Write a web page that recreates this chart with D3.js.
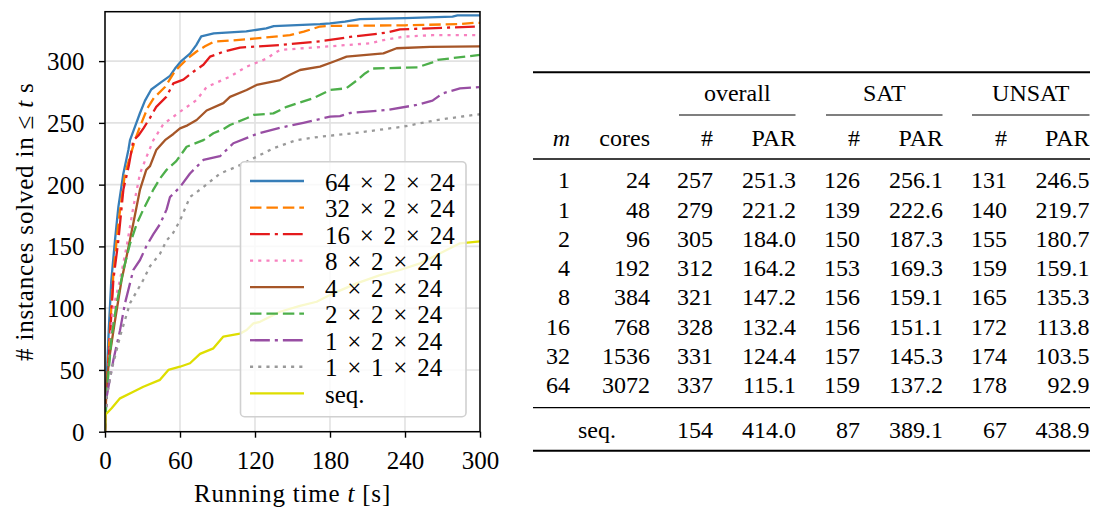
<!DOCTYPE html>
<html>
<head>
<meta charset="utf-8">
<script src="https://cdn.jsdelivr.net/npm/d3@7"></script>
<style>
  html, body { margin: 0; padding: 0; background: #fff; }
  svg { display: block; }
</style>
</head>
<body>
<svg id="fig" width="1096" height="510"></svg>
<script>
// ---------------- data ----------------
const xTicks = [0, 60, 120, 180, 240, 300];
const yTicks = [0, 50, 100, 150, 200, 250, 300];

const seriesNames = ["64 × 2 × 24", "32 × 2 × 24", "16 × 2 × 24", "8 × 2 × 24",
                     "4 × 2 × 24", "2 × 2 × 24", "1 × 2 × 24", "1 × 1 × 24", "seq."];

// [time s, #solved]
const s64 = [[0,0],[1,35],[3,82],[5,122],[8,155],[10.7,182],[14.7,209],[18.7,228],[20,236],[24,247],[28,258],[32,268],[37,277],[45,283],[52,288],[56,294],[61,300],[68,306],[73,313],[77,320],[87,322.5],[113,324],[129,326.5],[135,328.4],[172,330],[180,330.6],[192,332],[204,334],[240,334.8],[278,336],[282,337],[300,337]];
const s32 = [[0,0],[1,30],[3,66],[6.7,128],[10.7,169],[16,209],[24,236],[28,247],[34,262],[39,270],[48,279],[56,292],[60,296],[66,302],[73,307.6],[80,312],[87,315.7],[113,317.6],[148,321],[159,323.8],[172,328],[180,328.5],[240,329],[284,330],[295,331],[300,331]];
const s16 = [[0,0],[1,25],[3,60],[6.7,123],[10.7,155],[14.7,196],[19,215],[22.7,236],[27,240],[31,246],[36,254],[41,263],[49,271],[54.7,282],[62.7,285],[70.7,291.4],[78.7,297],[84,303.6],[94.7,307.6],[108,311],[140,313],[172,316],[196,319.6],[225,323],[236,325.7],[279,327.3],[300,328]];
const s8 = [[0,0],[1,20],[2.7,52],[6,95],[8,106],[12,123],[17.3,150],[22.7,182],[28,209],[33,222],[38.7,236],[46.7,249],[60,259],[73.3,268.5],[81.3,279],[100,287.4],[113.3,295.5],[129.3,302],[135,306],[140,309],[180,312],[212,314.4],[222.7,317],[238.7,319.8],[262,321],[300,321]];
const s4 = [[0,0],[1.3,40],[4,63.5],[8,90],[13.3,123],[17.3,142],[22.7,169],[28,196],[33,212],[36,215],[41,228],[48,236],[54.7,241],[60,245.6],[66,248],[73.3,252.3],[81.3,260],[94.7,266],[100,271],[113.3,276.6],[121.3,280.7],[140,284.7],[148,289],[156,292.8],[172,295.5],[182.7,299.5],[193.3,303.6],[222.7,306.3],[233.3,310.4],[260,311.5],[300,312]];
const s2 = [[0,0],[1.3,30],[5.3,77],[9.3,104],[14.7,131],[20,152],[25.3,168],[30.7,180],[38.7,196],[44,205],[49.3,212],[57,219],[61.3,225],[65.3,230.7],[78.7,236],[86.7,241.6],[94.7,245],[100,248.3],[113.3,253.7],[118.7,256.4],[134.7,257.7],[145.3,263],[166.7,270],[180,276.6],[193,278],[201,284],[208,290],[214,294],[250,295],[262,299],[266,301],[300,305]];
const s1x2 = [[0,0],[1.3,28],[6.7,58],[12,82],[16,104],[22.7,131],[28,139],[33,150],[38.7,160],[44,168],[49.3,180],[52,190],[60,198],[68,209],[78.7,220],[92,223],[102.7,233.5],[121.3,241],[140,246],[158.7,250],[180,255],[188,255.5],[196,258],[225.3,260.4],[249.3,264.5],[262,268],[270,273.8],[284,278],[300,279]];
const s1x1 = [[0,0],[1.3,28],[5.3,50],[12,77],[20,104],[30.7,123],[36,134],[44,144],[49.3,155],[54,160],[60,171],[68,190],[78.7,198],[92,209],[105.3,214.5],[121.3,222.6],[134.7,229.4],[153,236],[172,238.8],[198.7,241.6],[238.7,247],[265.3,252.3],[294.7,256.4],[300,257]];
const sSeq = [[0,0],[0.5,14],[5.3,19],[12,27],[22.7,32.4],[30.7,36.4],[44,42],[50.7,50],[60,52.6],[68,55.4],[76,63],[86.7,67.5],[94.7,77],[108,79.4],[113.3,82.3],[118.7,87.7],[124,89],[140,97.1],[156,101.8],[169.3,105.2],[182.7,112],[201.3,120.1],[220,126.8],[236,130.9],[252,136.3],[262.7,141.7],[273.3,147.1],[284,152.5],[300,154]];

// table
const tM = ["1","1","2","4","8","16","32","64"];
const tCores = ["24","48","96","192","384","768","1536","3072"];
const tOverallN = ["257","279","305","312","321","328","331","337"];
const tOverallPAR = ["251.3","221.2","184.0","164.2","147.2","132.4","124.4","115.1"];
const tSatN = ["126","139","150","153","156","156","157","159"];
const tSatPAR = ["256.1","222.6","187.3","169.3","159.1","151.1","145.3","137.2"];
const tUnsatN = ["131","140","155","159","165","172","174","178"];
const tUnsatPAR = ["246.5","219.7","180.7","159.1","135.3","113.8","103.5","92.9"];
const tSeqRow = ["154","414.0","87","389.1","67","438.9"];
const groupHeaders = ["overall","SAT","UNSAT"];

// ---------------- styles ----------------
const allSeries = [s64, s32, s16, s8, s4, s2, s1x2, s1x1, sSeq];
const colors = ["#377eb8","#ff7f00","#e41a1c","#f781bf","#a65628","#4daf4a","#984ea3","#999999","#dede00"];
const K = 3.1;
const DASH = null, DASHED = [3.7*K,1.6*K].join(","), DASHDOT = [6.4*K,1.6*K,1*K,1.6*K].join(","), DOTTED = [1*K,1.65*K].join(",");
const dashes = [DASH, DASHED, DASHDOT, DOTTED, DASH, DASHED, DASHDOT, DOTTED, DASH];
const LW = 2.3;
const FS = 25;
const FS_TABLE = 24;
const FONT = '"Liberation Serif", serif';

const svg = d3.select("#fig");
svg.append("rect").attr("width",1096).attr("height",510).attr("fill","#fff");

// ---------------- chart ----------------
const L = 105, R = 480, T = 11.7, B = 431.7;
const x = d3.scaleLinear().domain([0,300]).range([L,R]);
const y = d3.scaleLinear().domain([0,340]).range([B,T]);

const g = svg.append("g");
g.append("g").selectAll("line").data(xTicks).join("line")
  .attr("x1", d=>x(d)).attr("x2", d=>x(d)).attr("y1", T).attr("y2", B)
  .attr("stroke","#e2e2e2").attr("stroke-width",1.6);
g.append("g").selectAll("line").data(yTicks).join("line")
  .attr("y1", d=>y(d)).attr("y2", d=>y(d)).attr("x1", L).attr("x2", R)
  .attr("stroke","#e2e2e2").attr("stroke-width",1.6);

svg.append("defs").append("clipPath").attr("id","clip")
  .append("rect").attr("x",L).attr("y",T).attr("width",R-L).attr("height",B-T);

const line = d3.line().x(d=>x(d[0])).y(d=>y(d[1])).curve(d3.curveLinear);
g.append("g").attr("clip-path","url(#clip)").selectAll("path").data(allSeries).join("path")
  .attr("d", line).attr("fill","none")
  .attr("stroke",(d,i)=>colors[i]).attr("stroke-width",LW)
  .attr("stroke-dasharray",(d,i)=>dashes[i]).attr("stroke-linejoin","round");

// legend
const lg = svg.append("g");
lg.append("rect").attr("x",240.5).attr("y",161.7).attr("width",225.5).attr("height",255)
  .attr("rx",4).attr("fill","#fff").attr("fill-opacity",0.8)
  .attr("stroke","#d0d0d0").attr("stroke-width",1.6);
const legY = d3.scaleLinear().domain([0,8]).range([181,393.3]);
const items = lg.selectAll("g.item").data(seriesNames).join("g").attr("class","item");
items.append("line").attr("x1",250).attr("x2",304).attr("y1",(d,i)=>legY(i)).attr("y2",(d,i)=>legY(i))
  .attr("stroke",(d,i)=>colors[i]).attr("stroke-width",LW).attr("stroke-dasharray",(d,i)=>dashes[i]);
items.append("text").attr("x",325).attr("y",(d,i)=>legY(i)+9.5).attr("font-size",FS)
  .attr("font-family",FONT).attr("word-spacing","3.5px").text(d=>d);

// axes
const xAxis = d3.axisBottom(x).tickValues(xTicks).tickSize(6).tickPadding(14).tickSizeOuter(0);
const yAxis = d3.axisLeft(y).tickValues(yTicks).tickSize(6).tickPadding(14.5).tickSizeOuter(0);
const gx = svg.append("g").attr("transform",`translate(0,${B})`).call(xAxis);
const gy = svg.append("g").attr("transform",`translate(${L},0)`).call(yAxis);
[gx, gy].forEach(a => {
  a.attr("font-family", FONT).attr("font-size", FS);
  a.select(".domain").remove();
  a.selectAll(".tick line").attr("stroke","#000").attr("stroke-width",1.4);
  a.selectAll(".tick text").attr("fill","#000");
});
gy.selectAll(".tick text").attr("dy","0.34em");
svg.append("rect").attr("x",L).attr("y",T).attr("width",R-L).attr("height",B-T)
  .attr("fill","none").attr("stroke","#000").attr("stroke-width",1.5);

// axis labels
const xl = svg.append("text").attr("x",(L+R)/2).attr("y",502).attr("text-anchor","middle")
  .attr("font-size",FS).attr("font-family",FONT).attr("letter-spacing","0.8px");
xl.append("tspan").text("Running time ");
xl.append("tspan").attr("font-style","italic").text("t");
xl.append("tspan").text(" [s]");
const yl = svg.append("text").attr("transform",`translate(33,${(T+B)/2}) rotate(-90)`)
  .attr("text-anchor","middle").attr("font-size",FS).attr("font-family",FONT).attr("letter-spacing","0.8px");
yl.append("tspan").text("# instances solved in ≤ ");
yl.append("tspan").attr("font-style","italic").text("t");
yl.append("tspan").text(" s");

// ---------------- table ----------------
const tb = svg.append("g").attr("font-family",FONT);
const tL = 533, tR = 1090;
const colRight = [570, 650, 713, 796, 860, 943, 1007, 1089.5];
const rowY = d3.scaleLinear().domain([0,7]).range([188.3, 393.3]);
function rule(y1, x1, x2, w) {
  tb.append("line").attr("x1",x1).attr("x2",x2).attr("y1",y1).attr("y2",y1).attr("stroke","#000").attr("stroke-width",w);
}
rule(72.3, tL, tR, 2);
rule(159, tL, tR, 1.3);
rule(407.7, tL, tR, 1.3);
rule(450.7, tL, tR, 2);
const groupCmid = [[679,795.5],[826,942.5],[972,1089.5]];
groupCmid.forEach((c,i) => {
  rule(115, c[0], c[1], 1.2);
  tb.append("text").attr("x",(c[0]+c[1])/2).attr("y",100.7).attr("text-anchor","middle").attr("font-size",FS_TABLE).text(groupHeaders[i]);
});
const hdr = ["m","cores","#","PAR","#","PAR","#","PAR"];
hdr.forEach((h,i) => {
  tb.append("text").attr("x",colRight[i]).attr("y",146).attr("text-anchor","end").attr("font-size",FS_TABLE)
    .attr("font-style", i===0 ? "italic" : null).text(h);
});
const cols = [tM, tCores, tOverallN, tOverallPAR, tSatN, tSatPAR, tUnsatN, tUnsatPAR];
cols.forEach((col,ci) => {
  tb.append("g").selectAll("text").data(col).join("text")
    .attr("x", colRight[ci]).attr("y",(d,ri)=>rowY(ri)).attr("text-anchor","end").attr("font-size",FS_TABLE).text(d=>d);
});
tb.append("text").attr("x",597).attr("y",437.7).attr("text-anchor","middle").attr("font-size",FS_TABLE).text("seq.");
tSeqRow.forEach((v,i) => {
  tb.append("text").attr("x",colRight[i+2]).attr("y",437.7).attr("text-anchor","end").attr("font-size",FS_TABLE).text(v);
});
</script>
</body>
</html>
